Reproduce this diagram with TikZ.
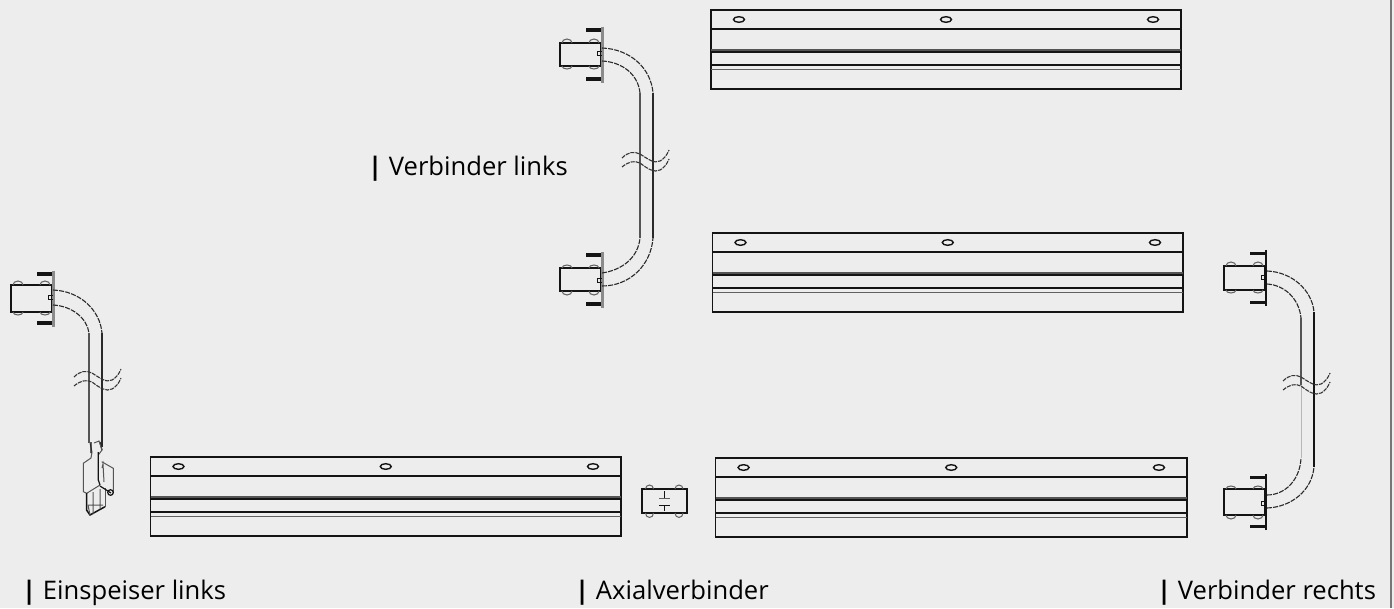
\documentclass[tikz,border=0pt]{standalone}
\usepackage{fontspec}
\setmainfont{Open Sans}
\definecolor{bg}{HTML}{EDEDED}
\definecolor{ink}{HTML}{141414}
\tikzset{
  every picture/.style={x=1pt,y=-1pt},
  drawn/.style={draw=ink,line width=1.3pt},
  soft/.style={draw=ink!65!bg,line width=1pt},
  heavy/.style={draw=ink!70!bg,line width=3pt},
  tube/.style={draw=ink!90!bg,line width=1.2pt},
  curve/.style={draw=ink!90!bg,line width=1.1pt,dash pattern=on 5pt off 1.2pt},
  wave/.style={draw=ink!85!bg,line width=1.1pt,dash pattern=on 4pt off 1pt},
  hole/.style={draw=ink,line width=1.4pt},
  flangegrey/.style={draw=ink!45!bg,line width=3pt},
  flangedark/.style={draw=ink,line width=1.6pt},
  caption/.style={anchor=base west,inner sep=0pt,font=\fontsize{25.6}{30}\selectfont,text=black},
}
% rail: left, top, right
\newcommand{\rail}[3]{%
  \begin{scope}[shift={(#1,#2)}]
    \pgfmathsetmacro{\w}{#3-#1}
    \draw[drawn] (0,0) rectangle (\w,79);
    \draw[drawn] (0,19) -- (\w,19);
    \draw[heavy] (0,40) -- (\w,40);
    \draw[drawn] (0,42) -- (\w,42);
    \draw[drawn] (0,55) -- (\w,55);
    \draw[soft,line width=.8pt] (0,59) -- (\w,59);
    \foreach \h in {0.0595,0.5,0.9405}{
      \draw[hole] (\h*\w,9.5) ellipse (5.5 and 2.8);}
  \end{scope}}
% connector head: flange at x, centre y, vertical flip, flange style, half height
\newcommand{\head}[5]{%
  \begin{scope}[shift={(#1,#2)},yscale=#3]
    \draw[drawn] (-42,-#5) rectangle (-1,#5);
    \draw[#4] (0,-28) -- (0,28);
    \draw[draw=ink,line width=3.4pt] (-16,-24.5) -- (-1,-24.5) (-16,24.5) -- (-1,24.5);
    \foreach \b in {-35,-8}{
      \draw[soft] (\b-5,-#5) arc (180:360:5 and 4);
      \draw[soft] (\b-5,#5) arc (180:0:5 and 3);}
    \draw[drawn,line width=1pt] (-5,-3) -- (0,-3) (-5,-3) -- (-5,1) -- (0,1);
  \end{scope}}
\newcommand{\wavepair}[2]{%
  \begin{scope}[shift={(#1,#2)}]
    \draw[wave] (0,5) .. controls (6,-1) and (12,-2) .. (18,1) .. controls (26,6) and (32,11) .. (38,8) .. controls (42,6) and (45,2) .. (47,-3);
    \draw[wave] (0,14) .. controls (6,9) and (12,7) .. (18,10) .. controls (26,16) and (32,20) .. (38,17) .. controls (42,15) and (45,11) .. (47,6);
  \end{scope}}
\begin{document}
\begin{tikzpicture}
\path[fill=bg] (0,0) rectangle (1394,608);
\useasboundingbox (0,0) rectangle (1394,608);
\fill[ink!55!bg] (1390,0) rectangle (1392,608);
% rails
\rail{711}{10}{1181}
\rail{712.5}{233}{1183}
\rail{715.5}{458}{1187}
\rail{150.5}{457}{621}
% Verbinder links
\head{602}{54.5}{1}{flangegrey}{11.5}
\head{602}{279.5}{-1}{flangegrey}{11.5}
\draw[curve] (602,48) .. controls (630,49) and (651,68) .. (653,93);
\draw[curve] (602,61) .. controls (622,62) and (638,74) .. (640,93);
\draw[curve] (602,273) .. controls (622,270) and (638,258) .. (640,238);
\draw[curve] (602,286) .. controls (630,286) and (651,265) .. (653,238);
\draw[tube,draw=ink!70!bg] (640,93) -- (640,238);
\draw[tube] (653,93) -- (653,238);
\wavepair{622}{153}
% Einspeiser
\head{53}{298.5}{1}{flangegrey}{13.5}
\draw[curve] (53,290) .. controls (80,291) and (100,310) .. (102,333);
\draw[curve] (53,305) .. controls (72,306) and (87,318) .. (89,333);
\draw[tube,draw=ink!70!bg] (89,333) -- (89,443);
\draw[tube] (102,333) -- (102,447);
\wavepair{74}{372}
% plug
\begin{scope}[line width=1pt,draw=ink!70!bg]
  \draw (90,443) -- (92,452) -- (91,458) -- (83.3,463.3) -- (83.3,491.7) -- (86.7,493.3) -- (100,485);
  \draw[draw=ink,line width=1.2pt] (91,442) -- (91,453) (100,442) -- (102,450);
  \draw (94,443) -- (99,441) -- (102,450) -- (98.3,455);
  \draw[draw=ink,line width=1.2pt] (98.3,452) -- (98.3,480) -- (100,485);
  \draw (101.7,461.7) -- (113.3,468.3) -- (113.3,493.3);
  \draw (102,468) -- (103,464) -- (104,482);
  \draw[draw=ink,line width=1.5pt] (86.5,493) -- (86.5,510) -- (90,515) -- (105,506.7);
  \draw (105,506.7) -- (105,488);
  \draw (93,492) -- (93,514) (100,489) -- (100,509) (90,515) -- (88,505) -- (103,505);
  \draw[draw=ink,line width=1.2pt] (100,486) -- (111,493);
  \draw[draw=ink,line width=1.2pt] (110.5,492.5) circle (2.8);
\end{scope}
% Axialverbinder
\begin{scope}
  \draw[drawn] (642,489) rectangle (687,513);
  \foreach \b in {649.5,679}{
    \draw[soft] (\b-4,489) arc (180:360:4 and 4);
    \draw[soft] (\b-4,513) arc (180:0:4 and 4.5);}
  \draw[drawn,line width=.9pt] (664.5,491) -- (664.5,498);
  \draw[soft,line width=1.3pt] (659,498.5) -- (670,498.5);
  \draw[drawn,line width=.9pt] (664.5,511) -- (664.5,505) (659,505) -- (670,505);
\end{scope}
% Verbinder rechts
\head{1266}{278}{1}{flangedark}{12}
\head{1266}{502}{-1}{flangedark}{13}
\draw[curve] (1267,271) .. controls (1292,272) and (1312,290) .. (1314,312);
\draw[curve] (1267,284) .. controls (1284,285) and (1299,298) .. (1301,318);
\draw[curve] (1267,495) .. controls (1285,495) and (1300,480) .. (1301,458);
\draw[curve] (1267,508) .. controls (1292,507) and (1312,490) .. (1314,467);
\draw[tube,draw=ink,line width=1.4pt] (1314,312) -- (1314,467);
\draw[tube,draw=ink!70!bg] (1301,318) -- (1301,385);
\draw[draw=ink!25!bg,line width=1pt] (1301,385) -- (1301,458);
\wavepair{1283}{376}
% captions
\node[caption] (einspeiser) at (22,599) {\textbf{|} Einspeiser links};
\node[caption] (axial) at (575,599) {\textbf{|} Axialverbinder};
\node[caption] (rechts) at (1157,599) {\textbf{|} Verbinder rechts};
\node[caption] (links) at (368,175) {\textbf{|} Verbinder links};
\end{tikzpicture}
\end{document}
